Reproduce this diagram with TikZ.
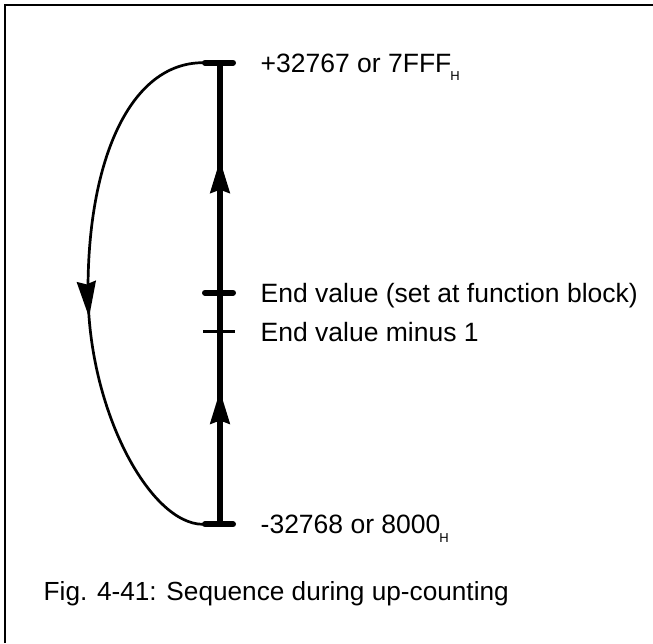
\documentclass[tikz,border=0pt]{standalone}
\usepackage{fontspec}
\setmainfont{Liberation Sans}
\usetikzlibrary{arrows.meta,decorations.markings}
\newcommand{\subH}{\hspace{-1pt}\raisebox{-8.5pt}{\fontsize{13}{14}\selectfont H}}
\tikzset{
  tipA/.tip={Stealth[length=33pt,width=19pt,inset=3pt]},
  tipB/.tip={Stealth[length=36pt,width=19pt,inset=3pt]}}
\begin{document}
\begin{tikzpicture}[x=1pt,y=-1pt,
  frameline/.style={line width=1.7pt},
  axisline/.style={line width=6pt},
  bigtick/.style={line width=6pt, line cap=round},
  thintick/.style={line width=2.5pt},
  loopline/.style={line width=2.7pt},
  lbl/.style={inner sep=0pt, anchor=base west, font=\fontsize{26.5}{31}\selectfont},
  captext/.style={inner sep=0pt, anchor=base west, font=\fontsize{26.2}{31}\selectfont}]
\useasboundingbox (0,0) rectangle (653,643);
% frame (top and left edges)
\coordinate (fbl) at (5,643);
\coordinate (ftl) at (5,5);
\coordinate (ftr) at (653,5);
\draw[frameline] (fbl) -- (ftl) -- (ftr);
% axis
\coordinate (atop) at (220,62.7);
\coordinate (abot) at (220,524.3);
\draw[axisline, postaction={decorate}, decoration={markings,
   mark=at position 0.29 with {\arrow{tipA}},
   mark=at position 0.79 with {\arrow{tipA}}}] (abot) -- (atop);
% ticks
\coordinate (t1l) at (205,62.7);  \coordinate (t1r) at (233,62.7);
\coordinate (t2l) at (205,292.7); \coordinate (t2r) at (233,292.7);
\coordinate (t3l) at (203,331.7); \coordinate (t3r) at (235,331.7);
\coordinate (t4l) at (205,524.3); \coordinate (t4r) at (233,524.3);
\draw[bigtick] (t1l) -- (t1r);
\draw[bigtick] (t2l) -- (t2r);
\draw[thintick] (t3l) -- (t3r);
\draw[bigtick] (t4l) -- (t4r);
% loop curve
\coordinate (cs) at (203,62.7);
\coordinate (cm) at (88,290);
\coordinate (ce) at (203,524.3);
\draw[loopline, postaction={decorate}, decoration={markings,
   mark=at position 0.55 with {\arrow{tipB}}}]
  (cs) .. controls (130,62.7) and (88,160) .. (cm)
       .. controls (88,410) and (150,524.3) .. (ce);
% labels
\node[lbl] (l1) at (260.5,72.2) {+32767 or 7FFF\subH};
\node[lbl] (l2) at (260.5,302.2) {End value (set at function block)};
\node[lbl] (l3) at (260.5,341.2) {End value minus 1};
\node[lbl] (l4) at (260.5,533.8) {-32768 or 8000\subH};
\node[captext] (c1) at (43.5,600.7) {Fig. 4-41: Sequence during up-counting};
\end{tikzpicture}
\end{document}
